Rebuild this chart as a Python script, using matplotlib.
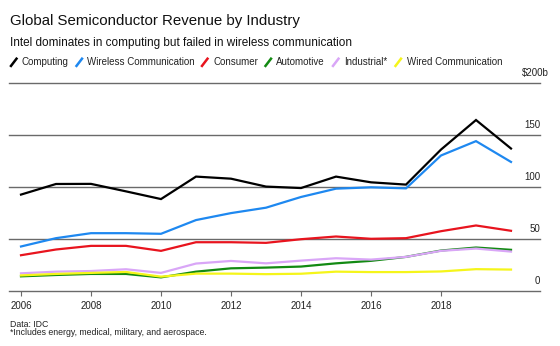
import matplotlib
matplotlib.use("Agg")
import matplotlib.pyplot as plt
from matplotlib.lines import Line2D

plt.rcParams['font.family'] = ['Liberation Sans', 'DejaVu Sans']

years = list(range(2006, 2021))
computing = [92.7, 102.9, 103.0, 95.8, 88.4, 110.0, 108.0, 100.4, 99.0, 110.0, 104.5, 102.3, 136.0, 164.4, 137.0]
wireless = [42.8, 50.8, 55.6, 55.6, 55.0, 68.2, 74.9, 80.1, 90.4, 98.4, 99.7, 98.7, 130.3, 144.1, 124.1]
consumer = [34.4, 39.9, 43.4, 43.4, 38.6, 46.9, 46.9, 46.3, 49.8, 52.4, 50.2, 50.8, 57.5, 63.0, 57.9]
automotive = [14.1, 15.4, 16.4, 16.4, 13.1, 18.6, 21.8, 22.5, 23.5, 26.6, 29.0, 32.8, 38.9, 41.8, 39.6]
industrial = [17.0, 18.6, 19.2, 20.9, 17.4, 26.4, 28.9, 26.6, 29.2, 31.5, 30.2, 32.8, 38.6, 40.8, 37.9]
wired = [15.0, 16.4, 17.4, 18.3, 13.8, 16.7, 16.7, 16.2, 16.6, 18.6, 18.2, 18.2, 18.8, 21.0, 20.6]

series_names = ["Computing", "Wireless Communication", "Consumer", "Automotive", "Industrial*", "Wired Communication"]
series_values = [computing, wireless, consumer, automotive, industrial, wired]
colors = ["#000000", "#1e88f0", "#e8141e", "#128a12", "#d9a6f7", "#f5f51a"]

x_ticks = [2006, 2008, 2010, 2012, 2014, 2016, 2018]
y_ticks = [0, 50, 100, 150, 200]
y_labels = ["0", "50", "100", "150", "$200b"]

W, H = 560, 346
fig = plt.figure(figsize=(W / 100, H / 100), dpi=100)
fig.patch.set_facecolor("white")

ax_left, ax_right, ax_bottom, ax_top = 9, 540, 291, 83.0
ax = fig.add_axes([ax_left / W, 1 - ax_bottom / H, (ax_right - ax_left) / W, (ax_bottom - ax_top) / H])
ax.set_facecolor("white")
ax.set_xlim(2006 - 12 / 35, 2006 + (540 - 21) / 35)
ax.set_ylim(0, 200)

grid_color = "#6a6a6a"
for yv, lab in zip(y_ticks, y_labels):
    ax.axhline(yv, color=grid_color, lw=1.0, zorder=1, clip_on=False)
    dx = 6 if lab.endswith("b") else 0
    ax.annotate(lab, xy=(1, yv), xycoords=("axes fraction", "data"),
                xytext=(dx, 3.5), textcoords="offset points",
                ha="right", va="bottom", fontsize=7, color="#222222")

for name, vals, c in zip(series_names, series_values, colors):
    ax.plot(years, vals, color=c, lw=1.6, zorder=3, solid_joinstyle="miter")

for s in ax.spines.values():
    s.set_visible(False)
ax.set_yticks([])
ax.set_xticks(x_ticks)
ax.set_xticklabels([str(t) for t in x_ticks])
ax.tick_params(axis="x", length=3.5, width=0.8, color=grid_color, labelsize=7,
               labelcolor="#222222", pad=4)

# Title / subtitle
fig.text(10 / W, 1 - 21.5 / H, "Global Semiconductor Revenue by Industry", fontsize=10.8,
         ha="left", va="center", color="#111111")
fig.text(10 / W, 1 - 42.7 / H, "Intel dominates in computing but failed in wireless communication",
         fontsize=8.5, ha="left", va="center", color="#111111")

# Legend
slash_x = [11, 76.5, 202, 265.5, 333, 395.5]
text_x = [21.7, 87.3, 213.3, 276, 344, 406.7]
ly = 62.3
for sx, tx, name, c in zip(slash_x, text_x, series_names, colors):
    fig.add_artist(Line2D([sx / W, (sx + 5.5) / W], [1 - (ly + 3.6) / H, 1 - (ly - 3.6) / H],
                          color=c, lw=1.8, transform=fig.transFigure))
    fig.text(tx / W, 1 - ly / H, name, fontsize=7, ha="left", va="center", color="#222222")

# Footer
fig.text(9.5 / W, 1 - 324.4 / H, "Data: IDC", fontsize=6.3, ha="left", va="center", color="#222222")
fig.text(9.5 / W, 1 - 332.8 / H, "*Includes energy, medical, military, and aerospace.", fontsize=6.3,
         ha="left", va="center", color="#222222")

fig.savefig("out.png", dpi=100, facecolor="white")
